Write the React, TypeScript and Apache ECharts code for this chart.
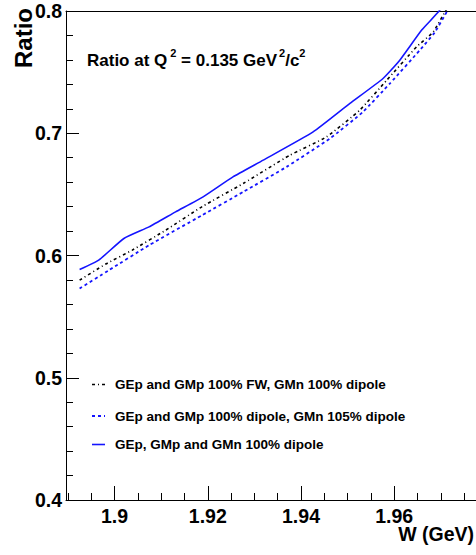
import React, { useEffect, useRef } from "react";
import * as echarts from "echarts";

const FONT = "'Liberation Sans', Arial, Helvetica, sans-serif";
const BLUE = "#1414ff";

// W (GeV) and ratio values for each form-factor model
const solidW = [1.8925, 1.8966, 1.902, 1.9074, 1.9131, 1.919, 1.9254, 1.9319, 1.9426, 1.9505, 1.9576, 1.9612, 1.9659, 1.9695, 1.9712];
const solidR = [0.5885, 0.5962, 0.6139, 0.6234, 0.6357, 0.648, 0.6643, 0.678, 0.7011, 0.7244, 0.7448, 0.7598, 0.7844, 0.7993, 0.809];

const fwW = [1.8925, 1.8981, 1.9038, 1.911, 1.9188, 1.9276, 1.9376, 1.9455, 1.9526, 1.9584, 1.9648, 1.9684, 1.9709, 1.9725];
const fwR = [0.5798, 0.593, 0.6044, 0.6208, 0.64, 0.6589, 0.682, 0.6971, 0.7189, 0.7434, 0.7707, 0.783, 0.7993, 0.808];

const gmnW = [1.8925, 1.8988, 1.9074, 1.9188, 1.9276, 1.9369, 1.9462, 1.9533, 1.9591, 1.9655, 1.9687, 1.9713, 1.9728];
const gmnR = [0.573, 0.588, 0.6084, 0.633, 0.652, 0.6725, 0.6957, 0.7175, 0.7408, 0.768, 0.7825, 0.7993, 0.808];

const legendLabels = [
  "GEp and GMp 100% FW, GMn 100% dipole",
  "GEp and GMp 100% dipole, GMn 105% dipole",
  "GEp, GMp and GMn 100% dipole",
];

const xMajorTicks = [1.9, 1.92, 1.94, 1.96];
const xMinorTicks = [1.89, 1.895, 1.905, 1.91, 1.915, 1.925, 1.93, 1.935, 1.945, 1.95, 1.955, 1.965, 1.97, 1.975];
const xMin = 1.88958;
const xMax = 1.97755;

const zip = (xs: number[], ys: number[]) => xs.map((x, i) => [x, ys[i]]);

const FW_DASH = [3, 3, 1, 3];
const DOT_DASH = [3, 3];

function buildOption(): echarts.EChartsOption {
  const gridBox = { left: 66, top: 11, right: 0, bottom: 55 };
  const legendY = [384.5, 416, 444.5];
  const legendStyles = [
    { stroke: "#000", lineWidth: 1.6, lineDash: FW_DASH },
    { stroke: BLUE, lineWidth: 1.8, lineDash: DOT_DASH },
    { stroke: BLUE, lineWidth: 1.6, lineDash: null as any },
  ];
  const legendGraphics: any[] = [];
  legendLabels.forEach((label, i) => {
    legendGraphics.push({
      type: "line",
      shape: { x1: 92, y1: legendY[i], x2: 105, y2: legendY[i] },
      style: { ...legendStyles[i], fill: null },
    });
    legendGraphics.push({
      type: "text",
      x: 115,
      y: legendY[i],
      style: {
        text: label,
        fill: "#000",
        font: `bold 13.5px ${FONT}`,
        textAlign: "left",
        textVerticalAlign: "middle",
      },
    });
  });

  return {
    animation: false,
    backgroundColor: "#fff",
    grid: [
      { ...gridBox, containLabel: false },
      { ...gridBox, containLabel: false },
    ],
    xAxis: [
      {
        type: "value",
        gridIndex: 0,
        position: "bottom",
        min: xMin,
        max: xMax,
        axisLine: { show: true, onZero: false, lineStyle: { color: "#000", width: 1 } },
        axisTick: { show: true, inside: true, length: 14, customValues: xMajorTicks, lineStyle: { color: "#000", width: 1 } },
        axisLabel: {
          show: true,
          customValues: xMajorTicks,
          formatter: (v: number) => String(+v.toFixed(2)),
          color: "#000",
          fontFamily: FONT,
          fontWeight: "bold",
          fontSize: 19.5,
          margin: 6,
        },
        splitLine: { show: false },
      },
      {
        type: "value",
        gridIndex: 1,
        position: "bottom",
        min: xMin,
        max: xMax,
        axisLine: { show: false },
        axisTick: { show: true, inside: true, length: 7, customValues: xMinorTicks, lineStyle: { color: "#000", width: 1 } },
        axisLabel: { show: false },
        splitLine: { show: false },
      },
      {
        type: "value",
        gridIndex: 0,
        position: "top",
        min: xMin,
        max: xMax,
        axisLine: { show: true, onZero: false, lineStyle: { color: "#000", width: 1 } },
        axisTick: { show: false },
        axisLabel: { show: false },
        splitLine: { show: false },
      },
    ],
    yAxis: [
      {
        type: "value",
        gridIndex: 0,
        min: 0.4,
        max: 0.8,
        interval: 0.1,
        axisLine: { show: true, onZero: false, lineStyle: { color: "#000", width: 1 } },
        axisTick: { show: true, inside: true, length: 13, lineStyle: { color: "#000", width: 1 } },
        minorTick: { show: true, splitNumber: 5, length: 7, lineStyle: { color: "#000", width: 1 } },
        axisLabel: {
          color: "#000",
          fontFamily: FONT,
          fontWeight: "bold",
          fontSize: 19.5,
          margin: 4,
          formatter: (v: number) => v.toFixed(1),
        },
        splitLine: { show: false },
      },
      { type: "value", gridIndex: 1, min: 0.4, max: 0.8, show: false },
    ],
    series: [
      {
        type: "line",
        xAxisIndex: 0,
        yAxisIndex: 0,
        data: zip(fwW, fwR),
        showSymbol: false,
        clip: true,
        smooth: 0.15,
        lineStyle: { color: "#000", width: 1.6, type: FW_DASH },
      },
      {
        type: "line",
        xAxisIndex: 0,
        yAxisIndex: 0,
        data: zip(gmnW, gmnR),
        showSymbol: false,
        clip: true,
        smooth: 0.15,
        lineStyle: { color: BLUE, width: 1.8, type: DOT_DASH },
      },
      {
        type: "line",
        xAxisIndex: 0,
        yAxisIndex: 0,
        data: zip(solidW, solidR),
        showSymbol: false,
        clip: true,
        smooth: 0.15,
        lineStyle: { color: BLUE, width: 1.6, type: "solid" },
      },
    ],
    graphic: [
      {
        // y-axis title, rotated to read bottom to top
        type: "text",
        x: 11,
        y: 8,
        rotation: Math.PI / 2,
        style: {
          text: "Ratio",
          fill: "#000",
          font: `bold 24px ${FONT}`,
          textAlign: "right",
          textVerticalAlign: "top",
        },
      },
      {
        type: "text",
        x: 474,
        y: 524,
        style: {
          text: "W (GeV)",
          fill: "#000",
          font: `bold 19.5px ${FONT}`,
          textAlign: "right",
          textVerticalAlign: "top",
        },
      },
      {
        type: "text",
        x: 87,
        y: 47,
        style: {
          text: "{m|Ratio at Q}{a|2}{m| = 0.135 GeV}{b|2}{m|/c}{c|2}",
          rich: {
            m: { fontFamily: FONT, fontWeight: "bold", fontSize: 17, lineHeight: 22, verticalAlign: "bottom", fill: "#000" },
            a: { fontFamily: FONT, fontWeight: "bold", fontSize: 11, lineHeight: 8, verticalAlign: "top", padding: [0, 0, 0, 3], fill: "#000" },
            b: { fontFamily: FONT, fontWeight: "bold", fontSize: 11, lineHeight: 8, verticalAlign: "top", padding: [0, 0, 0, 2], fill: "#000" },
            c: { fontFamily: FONT, fontWeight: "bold", fontSize: 11, lineHeight: 8, verticalAlign: "top", padding: [0, 0, 0, 0], fill: "#000" },
          },
        },
      },
      ...legendGraphics,
    ],
  };
}

export default function App() {
  const ref = useRef<HTMLDivElement>(null);
  useEffect(() => {
    if (!ref.current) return;
    const chart = echarts.init(ref.current, null, { renderer: "svg" });
    chart.setOption(buildOption());
    return () => chart.dispose();
  }, []);
  return (
    <div
      ref={ref}
      style={{ position: "absolute", left: 0, top: 0, width: 476, height: 555, background: "#fff" }}
    />
  );
}
